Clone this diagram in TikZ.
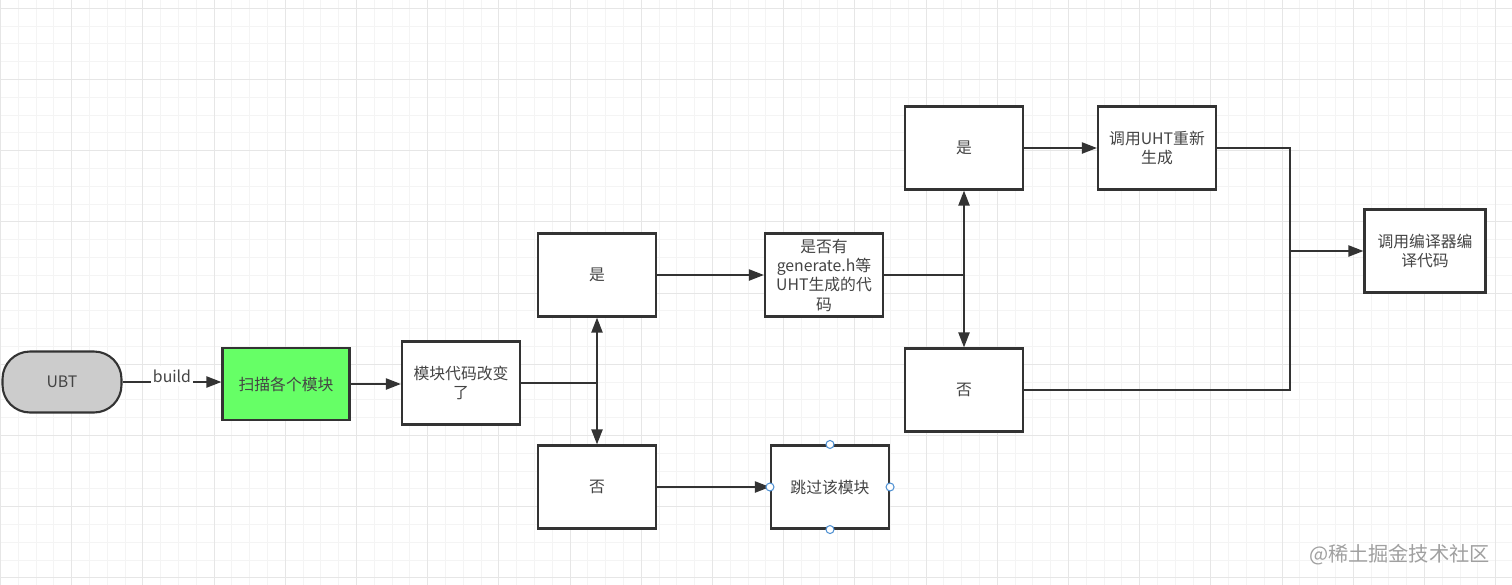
\documentclass[tikz,border=0pt]{standalone}
\usepackage{fontspec}
\usetikzlibrary{arrows.meta}
\newfontfamily\cjk{Noto Sans CJK SC}
\definecolor{lined}{RGB}{51,51,51}
\definecolor{txtd}{RGB}{68,68,68}
\definecolor{bgreen}{RGB}{102,255,102}
\definecolor{ubtgray}{RGB}{204,204,204}
\definecolor{gminor}{RGB}{244,244,244}
\definecolor{gmajor}{RGB}{230,230,230}
\definecolor{hblue}{RGB}{80,145,210}
\definecolor{wmark}{RGB}{160,160,160}

\begin{document}
\begin{tikzpicture}[x=0.02cm, y=-0.02cm,
  box/.style={
    rectangle, draw=lined, line width=1.2pt, fill=white,
    minimum width=2.36cm, minimum height=1.66cm,
    align=center, text=txtd, inner sep=1pt,
    font=\cjk\fontsize{9}{11}\selectfont
  },
  arr/.style={-{Triangle[length=0.3cm,width=0.22cm]}, line width=1.2pt, draw=lined},
  lin/.style={line width=1.2pt, draw=lined},
  handle/.style={circle, draw=hblue, fill=white, line width=0.6pt,
    minimum size=0.16cm, inner sep=0pt}
]
  \useasboundingbox (0,0) rectangle (1512,585);
  \fill[white] (0,0) rectangle (1512,585);

  % grid paper
  \foreach \i in {0,...,85}
    \draw[gminor, line width=0.5pt] (0.5+17.8*\i,0) -- (0.5+17.8*\i,585);
  \foreach \i in {0,...,34}
    \draw[gminor, line width=0.5pt] (0,-9.5+17.8*\i) -- (1512,-9.5+17.8*\i);
  \foreach \i in {0,...,21}
    \draw[gmajor, line width=0.6pt] (0.5+71.2*\i,0) -- (0.5+71.2*\i,585);
  \foreach \i in {0,...,8}
    \draw[gmajor, line width=0.6pt] (0,8.3+71.2*\i) -- (1512,8.3+71.2*\i);

  \node[box, fill=ubtgray, rounded corners=0.55cm,
    minimum width=2.38cm, minimum height=1.22cm] (ubt) at (62,382) {UBT};
  \node[box, fill=bgreen, minimum width=2.54cm, minimum height=1.44cm] (scan) at (286,384) {扫描各个模块};
  \node[box] (chg) at (461,383) {模块代码改变\\了};
  \node[box] (yes1) at (597,275) {是};
  \node[box] (no1) at (597,487) {否};
  \node[box] (gen) at (824,275) {是否有\\generate.h等\\UHT生成的代\\码};
  \node[box] (skip) at (830,487) {跳过该模块};
  \node[box] (yes2) at (964,148) {是};
  \node[box] (uht) at (1157,148) {调用UHT重新\\生成};
  \node[box] (no2) at (964,390) {否};
  \node[box, minimum width=2.42cm] (comp) at (1425,251) {调用编译器编\\译代码};

  \draw[arr] (ubt.east) -- node[anchor=base, fill=white, inner xsep=1pt, inner ysep=2pt,
    text=txtd, font=\cjk\fontsize{9}{11}\selectfont] (build) {build} (ubt.east -| scan.west);
  \draw[arr] (scan.east) -- (scan.east -| chg.west);

  \coordinate (split1) at (yes1.south |- chg.east);
  \draw[lin] (chg.east) -- (split1);
  \draw[arr] (split1) -- (yes1.south);
  \draw[arr] (split1) -- (no1.north);
  \draw[arr] (yes1) -- (gen);
  \draw[arr] (no1.east) -- (skip.west);

  \coordinate (split2) at (yes2.south |- gen.east);
  \draw[lin] (gen.east) -- (split2);
  \draw[arr] (split2) -- (yes2.south);
  \draw[arr] (split2) -- (no2.north);
  \draw[arr] (yes2) -- (uht);

  \coordinate (join) at (1290,251);
  \draw[lin] (uht.east) -| (join);
  \draw[lin] (no2.east) -| (join);
  \draw[arr] (join) -- (comp.west);

  % selection handles
  \foreach \a in {north,south,east,west}
    \node[handle] (h\a) at (skip.\a) {};

  \node[anchor=east, text=wmark, font=\cjk\fontsize{11.5}{13}\selectfont] (wm) at (1496,555) {@稀土掘金技术社区};
\end{tikzpicture}
\end{document}
